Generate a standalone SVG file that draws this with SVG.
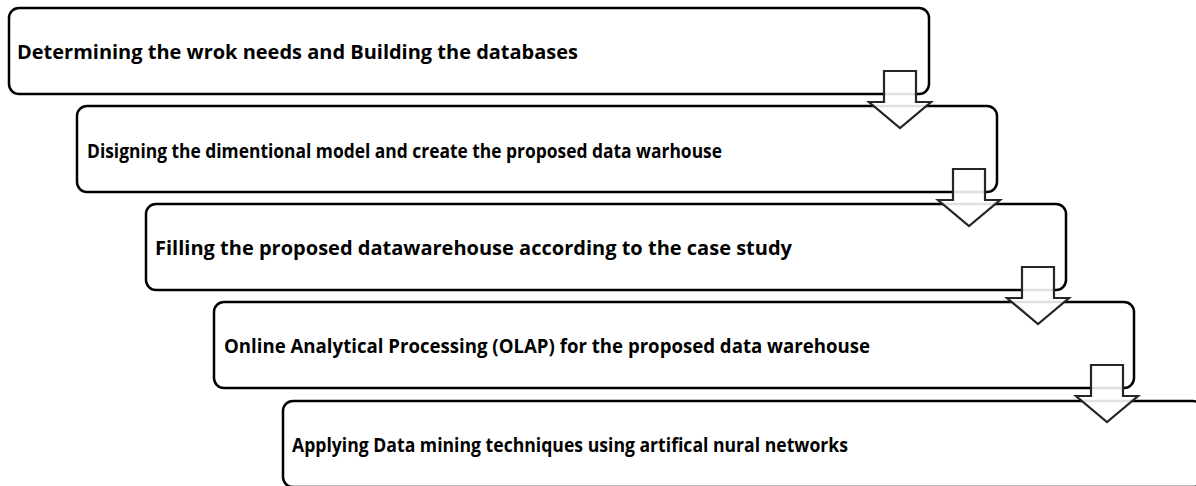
<svg xmlns="http://www.w3.org/2000/svg" width="1196" height="486" viewBox="0 0 1196 486">
<style>
.box{fill:#fff;stroke:#000;stroke-width:2.5}
.lbl{font-family:"Open Sans","Liberation Sans",sans-serif;font-weight:bold;font-size:19px;fill:#000}
.arr{fill:#fff;fill-opacity:0.88;stroke:#262626;stroke-width:2.2;stroke-linejoin:miter}
</style>
<rect width="1196" height="486" fill="#fff"/>
<g id="node1"><rect class="box" x="9" y="8" width="920" height="86" rx="10"/><text class="lbl" x="17" y="59" textLength="561" lengthAdjust="spacingAndGlyphs">Determining the wrok needs and Building the databases</text></g>
<g id="node2"><rect class="box" x="77" y="106" width="920" height="86" rx="10"/><text class="lbl" x="87" y="158" textLength="635" lengthAdjust="spacingAndGlyphs">Disigning the dimentional model and create the proposed data warhouse</text></g>
<g id="node3"><rect class="box" x="146" y="204" width="920" height="86" rx="10"/><text class="lbl" x="155" y="255" textLength="637" lengthAdjust="spacingAndGlyphs">Filling the proposed datawarehouse according to the case study</text></g>
<g id="node4"><rect class="box" x="214" y="302" width="920" height="86" rx="10"/><text class="lbl" x="224" y="353" textLength="646" lengthAdjust="spacingAndGlyphs">Online Analytical Processing (OLAP) for the proposed data warehouse</text></g>
<g id="node5"><rect class="box" x="283" y="401" width="920" height="86" rx="10"/><text class="lbl" x="292" y="452" textLength="556" lengthAdjust="spacingAndGlyphs">Applying Data mining techniques using artifical nural networks</text></g>
<g id="connectors">
<path class="arr" d="M884,71 h32 v31 h15 L900,128 L869,102 h15 z"/>
<path class="arr" d="M953,169 h32 v31 h15 L969,226 L938,200 h15 z"/>
<path class="arr" d="M1022,267 h32 v31 h15 L1038,324 L1007,298 h15 z"/>
<path class="arr" d="M1091,365 h32 v31 h15 L1107,422 L1076,396 h15 z"/>
</g>
</svg>
